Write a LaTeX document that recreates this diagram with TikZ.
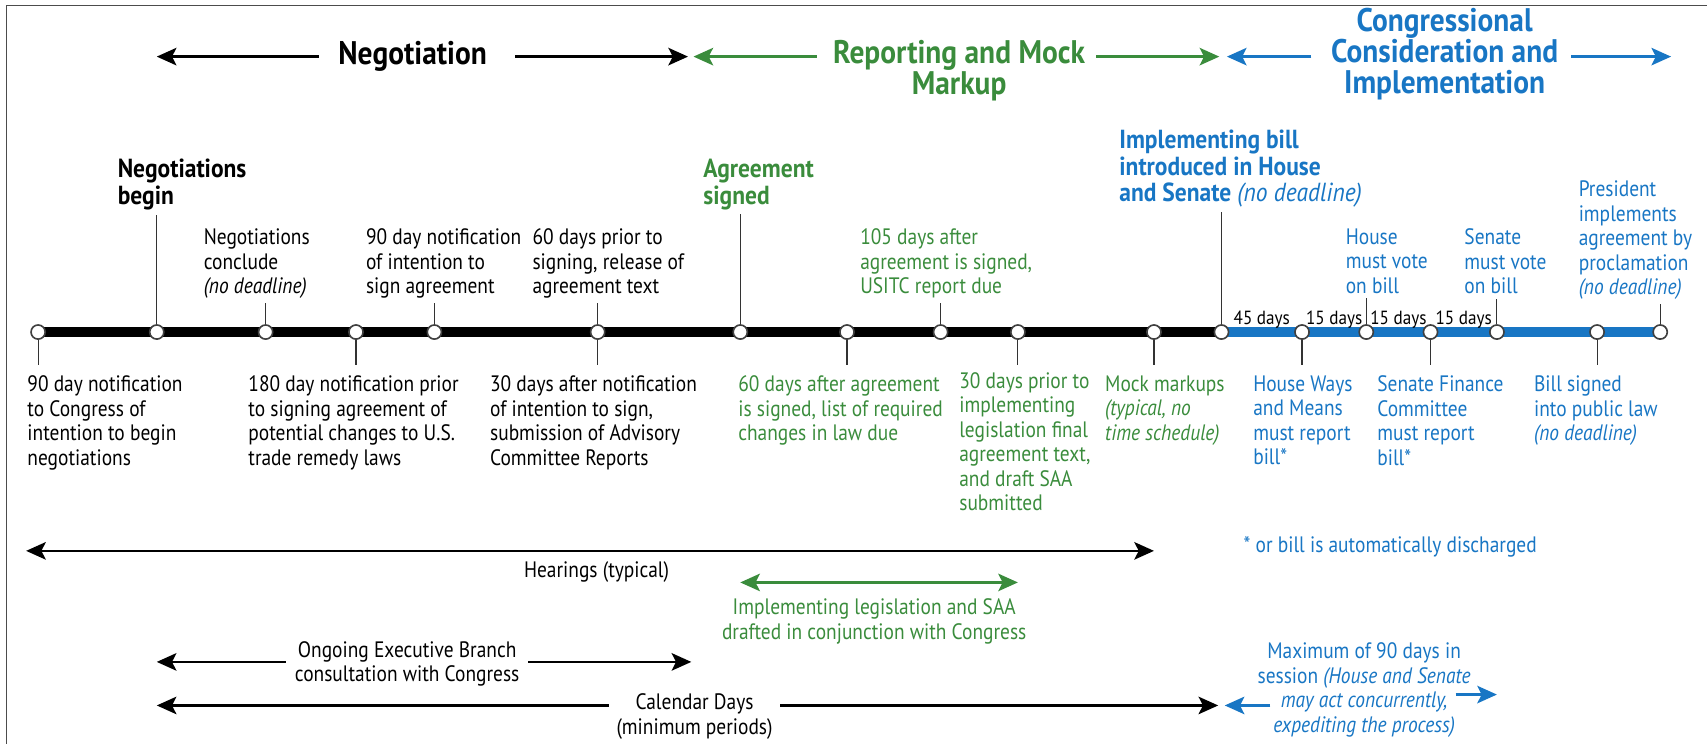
\documentclass[tikz,border=0pt]{standalone}
\usepackage{fontspec}
\setmainfont[FakeStretch=0.87]{PT Sans}
\newfontfamily\widefont[FakeStretch=0.9]{PT Sans}
\usetikzlibrary{
  arrows.meta,
  positioning,  % relative placement
  backgrounds,  % bar behind the event circles
  calc,         % tick ends
}
\definecolor{repgreen}{RGB}{58,140,60}
\definecolor{conblue}{RGB}{24,118,196}
\tikzset{
  >={Stealth[length=18pt,width=16pt,inset=4pt]},
  evt/.style={
    circle,
    draw=black!75,
    fill=white,
    line width=1.5pt,
    minimum size=13pt,
    inner sep=0pt
  },
  tick/.style={
    draw=black!80,
    line width=1pt
  },
  lbl/.style={
    anchor=north west,
    align=left,
    inner sep=0pt,
    font=\fontsize{20.5}{22.5}\selectfont
  },
  blbl/.style={
    lbl,
    font=\widefont\fontsize{24}{24.5}\selectfont\bfseries
  },
  hdr/.style={
    align=center,
    inner sep=0pt,
    font=\widefont\fontsize{30}{28.5}\selectfont\bfseries
  },
  clbl/.style={
    align=center,
    inner sep=0pt,
    font=\fontsize{20.5}{22.5}\selectfont
  },
  daysl/.style={
    anchor=base,
    yshift=7pt,
    inner sep=0pt,
    font=\widefont\fontsize{17.5}{18}\selectfont
  },
  span/.style={
    line width=2.5pt
  },
  bar/.style={
    line width=9.5pt
  }
}

\begin{document}
\begin{tikzpicture}[x=1pt,y=-1pt]
\useasboundingbox (0,0) rectangle (1568,683);
\draw[black!70,line width=1.5pt] (6,683) -- (6,5) -- (1568,5);

% phases
\node[hdr]          (hNeg) at (379,52)   {Negotiation};
\node[hdr,repgreen] (hRep) at (881,65)   {Reporting and Mock\\Markup};
\node[hdr,conblue]  (hCon) at (1327,50)  {Congressional\\Consideration and\\Implementation};

% events
\node[evt] (c1)  at (35,305)   {};
\node[evt] (c2)  at (144,305)  {};
\node[evt] (c3)  at (244,305)  {};
\node[evt] (c4)  at (327,305)  {};
\node[evt] (c5)  at (399,305)  {};
\node[evt] (c6)  at (549,305)  {};
\node[evt] (c7)  at (680,305)  {};
\node[evt] (c8)  at (778,305)  {};
\node[evt] (c9)  at (864,305)  {};
\node[evt] (c10) at (935,305)  {};
\node[evt] (c11) at (1060,305) {};
\node[evt] (c12) at (1122,305) {};
\node[evt] (c13) at (1196,305) {};
\node[evt] (c14) at (1255,305) {};
\node[evt] (c15) at (1314,305) {};
\node[evt] (c16) at (1375,305) {};
\node[evt] (c17) at (1467,305) {};
\node[evt] (c18) at (1525,305) {};
\begin{scope}[on background layer]
  \draw[bar]         (c1.center)  -- (c12.center);
  \draw[bar,conblue] (c12.center) -- (c18.center);
\end{scope}

\coordinate (negL) at (c2 |- 0,52);
\coordinate (negR) at (632,52);
\coordinate (repL) at (637,52);
\coordinate (repR) at (1120,52);
\coordinate (conL) at (1127,52);
\coordinate (conR) at (1535,52);
\draw[span,->]          ([xshift=-18pt]hNeg.west) -- (negL);
\draw[span,->]          ([xshift=26pt]hNeg.east)  -- (negR);
\draw[span,->,repgreen] ([xshift=-15pt]hRep.west |- repL) -- (repL);
\draw[span,->,repgreen] ([xshift=10pt]hRep.east |- repR)  -- (repR);
\draw[span,->,conblue]  ([xshift=-18pt]hCon.west |- conL) -- (conL);
\draw[span,->,conblue]  ([xshift=12pt]hCon.east |- conR)  -- (conR);

% labels above
\node[blbl]         (t2)  at (108,146)  {Negotiations\\begin};
\node[lbl]          (t3)  at (187,210)  {Negotiations\\conclude\\\textit{(no deadline)}};
\node[lbl]          (t5)  at (336,210)  {90 day notification\\of intention to\\sign agreement};
\node[lbl]          (t6)  at (489,210)  {60 days prior to\\signing, release of\\agreement text};
\node[blbl,repgreen](t7)  at (646,146)  {Agreement\\signed};
\node[lbl,repgreen] (t9)  at (790,210)  {105 days after\\agreement is signed,\\USITC report due};
\node[blbl,conblue] (t12) at (1028,119) {Implementing bill\\introduced in House\\and Senate \mdseries\itshape(no deadline)};
\node[lbl,conblue]  (t14) at (1236,210) {House\\must vote\\on bill};
\node[lbl,conblue]  (t16) at (1345,210) {Senate\\must vote\\on bill};
\node[lbl,conblue]  (t18) at (1450,166) {President\\implements\\agreement by\\proclamation\\\textit{(no deadline)}};

% labels below
\node[lbl]          (b1)  at (25,345)   {90 day notification\\to Congress of\\intention to begin\\negotiations};
\node[lbl]          (b4)  at (228,345)  {180 day notification prior\\to signing agreement of\\potential changes to U.S.\\trade remedy laws};
\node[lbl]          (b6)  at (450,345)  {30 days after notification\\of intention to sign,\\submission of Advisory\\Committee Reports};
\node[lbl,repgreen] (b8)  at (678,345)  {60 days after agreement\\is signed, list of required\\changes in law due};
\node[lbl,repgreen] (b10) at (881,342)  {30 days prior to\\implementing\\legislation final\\agreement text,\\and draft SAA\\submitted};
\node[lbl,repgreen] (b11) at (1015,345) {Mock markups\\\textit{(typical, no}\\\textit{time schedule)}};
\node[lbl,conblue]  (b13) at (1151,345) {House Ways\\and Means\\must report\\bill*};
\node[lbl,conblue]  (b15) at (1265,345) {Senate Finance\\Committee\\must report\\bill*};
\node[lbl,conblue]  (b17) at (1409,345) {Bill signed\\into public law\\\textit{(no deadline)}};

% ticks
\draw[tick] (c2)  -- ($(c2 |- t2.south)+(0,4)$);
\draw[tick] (c3)  -- ($(c3 |- t3.south)+(0,4)$);
\draw[tick] (c5)  -- ($(c5 |- t5.south)+(0,4)$);
\draw[tick] (c6)  -- ($(c6 |- t6.south)+(0,4)$);
\draw[tick] (c7)  -- ($(c7 |- t7.south)+(0,4)$);
\draw[tick] (c9)  -- ($(c9 |- t9.south)+(0,4)$);
\draw[tick] (c12) -- ($(c12 |- t12.south)+(0,4)$);
\draw[tick] (c14) -- ($(c14 |- t14.south)+(0,4)$);
\draw[tick] (c16) -- ($(c16 |- t16.south)+(0,4)$);
\draw[tick] (c18) -- ($(c18 |- t18.south)+(0,4)$);
\draw[tick] (c1)  -- ($(c1 |- b1.north)+(0,-10)$);
\draw[tick] (c4)  -- ($(c4 |- b4.north)+(0,-10)$);
\draw[tick] (c6)  -- ($(c6 |- b6.north)+(0,-10)$);
\draw[tick] (c8)  -- ($(c8 |- b8.north)+(0,-10)$);
\draw[tick] (c10) -- ($(c10 |- b10.north)+(0,-7)$);
\draw[tick] (c11) -- ($(c11 |- b11.north)+(0,-10)$);
\draw[tick] (c13) -- ($(c13 |- b13.north)+(0,-10)$);
\draw[tick] (c15) -- ($(c15 |- b15.north)+(0,-10)$);
\draw[tick] (c17) -- ($(c17 |- b17.north)+(0,-10)$);

% periods in session
\path (c12) -- node[daysl] (d1) {45 days} (c13)
      (c13) -- node[daysl] (d2) {15 days} (c14)
      (c14) -- node[daysl] (d3) {15 days} (c15)
      (c15) -- node[daysl] (d4) {15 days} (c16);

% spans below
\coordinate (hearL) at (24,506);
\coordinate (hearR) at (c11 |- hearL);
\draw[span,<->] (hearL) -- (hearR);
\node[clbl] (hearT) at (548,525) {Hearings (typical)};

\coordinate (implL) at (c7 |- 0,535);
\coordinate (implR) at (c10 |- implL);
\draw[span,<->,repgreen] (implL) -- (implR);
\node[clbl,repgreen] (implT) at (803,571) {Implementing legislation and SAA\\drafted in conjunction with Congress};

\node[clbl,conblue] (note) at (1277,502) {* or bill is automatically discharged};

\coordinate (ongL) at (c2 |- 0,608);
\coordinate (ongR) at (635,608);
\draw[span,<->] (ongL) -- (ongR);
\node[clbl,fill=white,inner xsep=8pt] (ongT) at (374,610) {Ongoing Executive Branch\\consultation with Congress};

\coordinate (calL) at (c2 |- 0,648);
\coordinate (calR) at (1119,648);
\draw[span,<->] (calL) -- (calR);
\node[clbl,fill=white,inner xsep=7pt] (calT) at (638,658) {Calendar Days\\(minimum periods)};

\node[clbl,conblue] (maxT) at (1253,634) {Maximum of 90 days in\\session \textit{(House and Senate}\\\textit{may act concurrently,}\\\textit{expediting the process)}};
\coordinate (maxL) at (1125,648);
\coordinate (maxR) at (c16 |- 0,638);
\draw[span,->,conblue] ([xshift=12pt]maxT.west |- maxL) -- (maxL);
\draw[span,->,conblue] ([xshift=-14pt]maxT.east |- maxR) -- (maxR);
\end{tikzpicture}
\end{document}
